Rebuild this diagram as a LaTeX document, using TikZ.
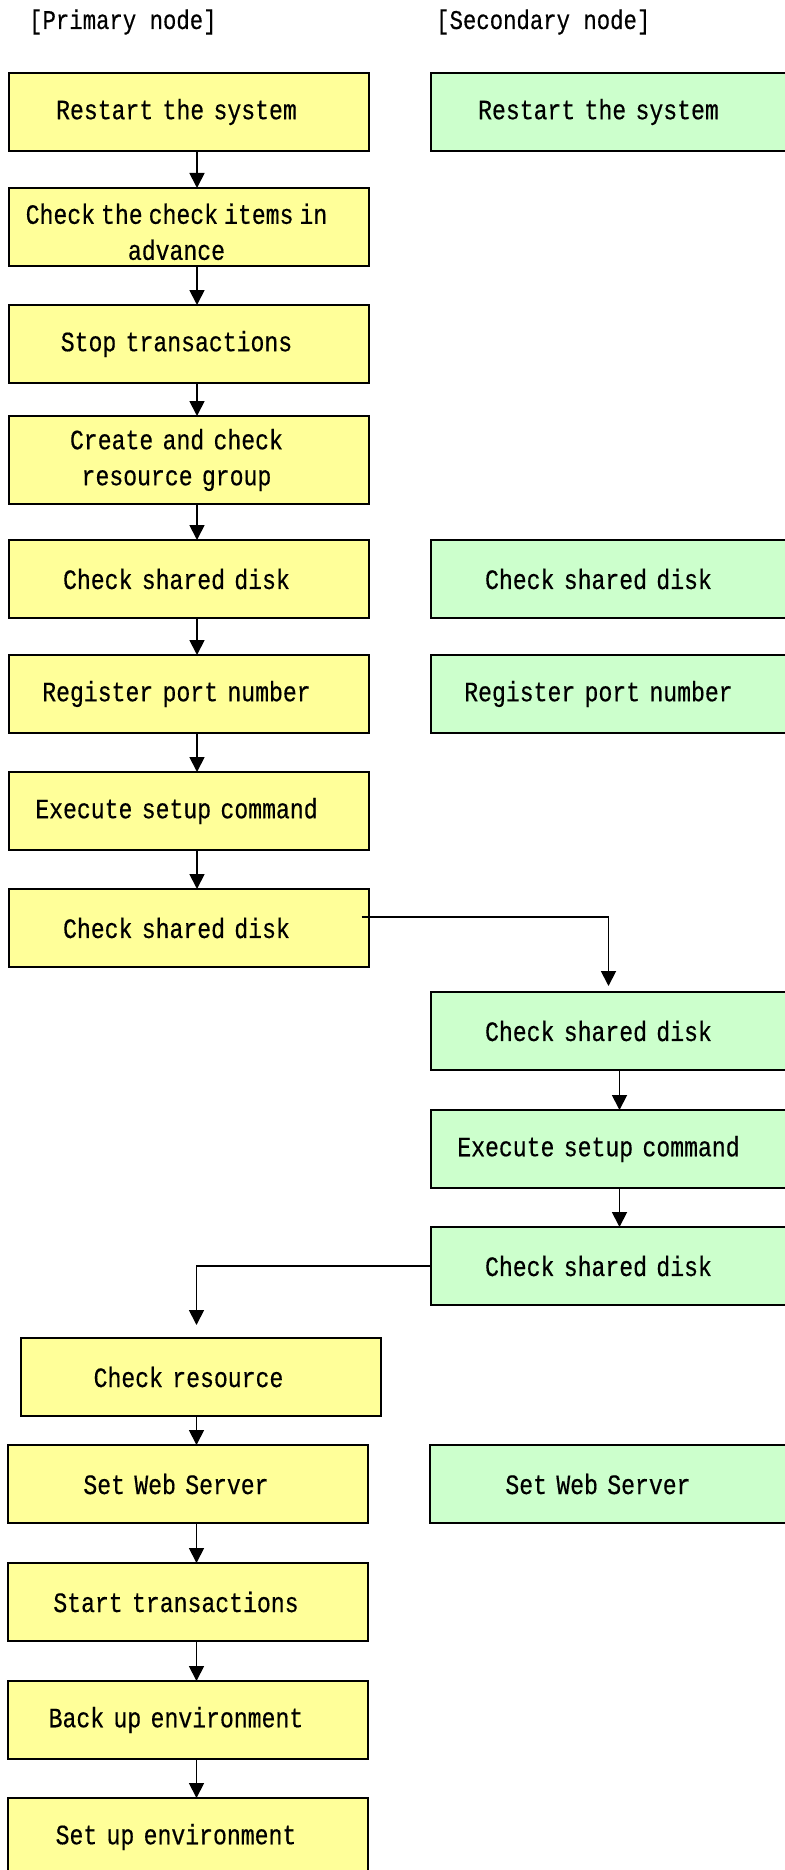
\documentclass[tikz,border=0pt]{standalone}
\usepackage{fontspec}
\setmonofont[FakeStretch=0.826, FakeBold=0.4]{Liberation Mono}
\usetikzlibrary{arrows.meta,positioning}
\definecolor{priyellow}{HTML}{FFFF99}
\definecolor{secgreen}{HTML}{CCFFCC}

\begin{document}
\begin{tikzpicture}[
        node distance=37pt,
        every node/.style={font=\ttfamily\fontsize{28}{36}\selectfont},
        box/.style={rectangle, draw, line width=2pt, outer sep=0pt, minimum width=360pt, minimum height=78pt,
            text width=336pt, inner xsep=12pt, inner ysep=0pt, align=center,
            execute at begin node={\leftskip=0pt plus 1fil\rightskip=24pt plus 1fil\relax}},
        pri/.style={box, fill=priyellow},
        sec/.style={box, fill=secgreen},
        hdr/.style={anchor=west, inner sep=0pt, font=\ttfamily\fontsize{27}{36}\selectfont},
        arr/.style={-{Triangle[length=15pt, width=15pt]}, line width=1.8pt}
    ]
    \useasboundingbox (0,0) rectangle (784pt,-1870pt);

    % Headers
    \node[hdr] (hP) at (29pt,-22pt) {[Primary node]};
    \node[hdr] (hS) at (436pt,-22pt) {[Secondary node]};

    % Primary node, first part
    \node[pri] (L1) at (188.5pt,-112pt) {Restart the system};
    \node[pri, below=37pt of L1] (L2) {\spaceskip=6pt\relax\rule{0pt}{30pt}Check the check items in\\advance};
    \node[pri, below=39pt of L2] (L3) {Stop transactions};
    \node[pri, below=33pt of L3, minimum height=88pt] (L4) {Create and check\\resource group};
    \node[pri, below=36pt of L4] (L5) {Check shared disk};
    \node[pri, below=37pt of L5] (L6) {Register port number};
    \node[pri, below=39pt of L6] (L7) {Execute setup command};
    \node[pri, below=39pt of L7] (L8) {Check shared disk};

    % Secondary node
    \node[sec, right=62pt of L1] (R1) {Restart the system};
    \node[sec, right=62pt of L5] (R5) {Check shared disk};
    \node[sec, right=62pt of L6] (R6) {Register port number};
    \node[sec, below right=25pt and 62pt of L8] (R9) {Check shared disk};
    \node[sec, below=40pt of R9] (R10) {Execute setup command};
    \node[sec, below=39pt of R10] (R11) {Check shared disk};

    % Primary node, second part
    \node[pri, below left=33pt and 50pt of R11] (L9) {Check resource};
    \node[pri, below=29pt of L9, xshift=-12.5pt] (L10) {Set Web Server};
    \node[sec, right=62pt of L10] (R12) {Set Web Server};
    \node[pri, below=40pt of L10] (L11) {Start transactions};
    \node[pri, below=40pt of L11] (L12) {Back up environment};
    \node[pri, below=39pt of L12] (L13) {Set up environment};

    % Arrows down the primary column
    \draw[arr] ([xshift=8.5pt]L1.south) -- ([xshift=8.5pt]L2.north);
    \draw[arr] ([xshift=8.5pt]L2.south) -- ([xshift=8.5pt]L3.north);
    \draw[arr] ([xshift=8.5pt]L3.south) -- ([xshift=8.5pt]L4.north);
    \draw[arr] ([xshift=8.5pt]L4.south) -- ([xshift=8.5pt]L5.north);
    \draw[arr] ([xshift=8.5pt]L5.south) -- ([xshift=8.5pt]L6.north);
    \draw[arr] ([xshift=8.5pt]L6.south) -- ([xshift=8.5pt]L7.north);
    \draw[arr] ([xshift=8.5pt]L7.south) -- ([xshift=8.5pt]L8.north);

    % Over to the secondary node and back
    \draw[arr] ([xshift=-7pt, yshift=11pt]L8.east) -| ([xshift=-2pt, yshift=6pt]R9.north);
    \draw[arr] ([xshift=9pt]R9.south) -- ([xshift=9pt]R10.north);
    \draw[arr] ([xshift=9pt]R10.south) -- ([xshift=9pt]R11.north);
    \draw[arr] (R11.west) -| ([xshift=-4pt, yshift=13pt]L9.north);

    % Rest of the primary column
    \draw[arr] ([xshift=-4pt]L9.south) -- ([xshift=8.5pt]L10.north);
    \draw[arr] ([xshift=8.5pt]L10.south) -- ([xshift=8.5pt]L11.north);
    \draw[arr] ([xshift=8.5pt]L11.south) -- ([xshift=8.5pt]L12.north);
    \draw[arr] ([xshift=8.5pt]L12.south) -- ([xshift=8.5pt]L13.north);
\end{tikzpicture}
\end{document}
